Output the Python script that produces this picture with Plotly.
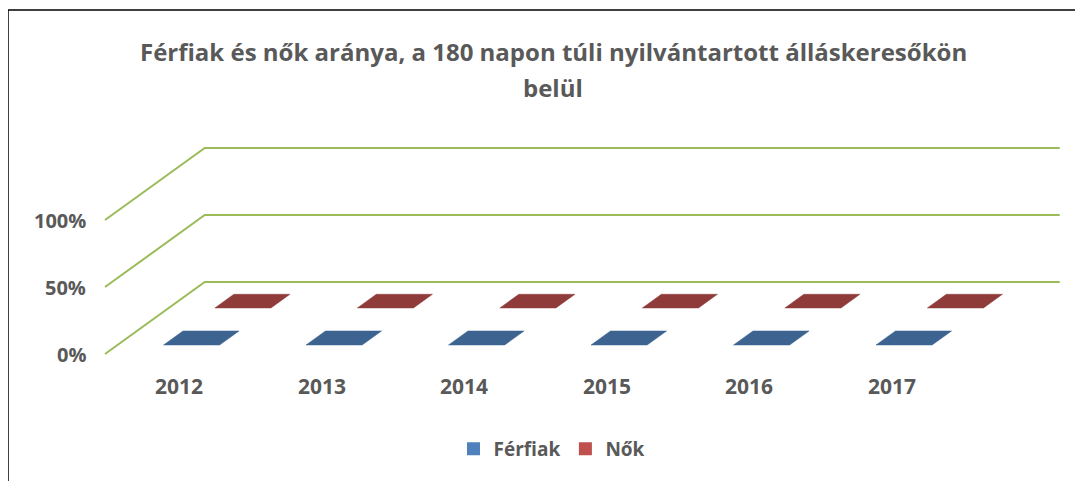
import plotly.graph_objects as go

# ---- data ----
years = ["2012", "2013", "2014", "2015", "2016", "2017"]
ferfiak = [0, 0, 0, 0, 0, 0]   # bars drawn flat on the floor in the reference
nok = [0, 0, 0, 0, 0, 0]
y_ticks = [0, 50, 100]
y_tick_labels = ["0%", "50%", "100%"]
series_names = ["Férfiak", "Nők"]
title_lines = ["Férfiak és nők aránya, a 180 napon túli nyilvántartott álláskeresőkön", "belül"]

# ---- 3D-oblique projection parameters (style) ----
DX = 0.70      # horizontal shift of the back wall (category units)
DY = 53.7      # vertical shift of the back wall (percent units)
FLOOR_L = -0.52
FLOOR_R = len(years) - 1 + 0.48
BAR_HW = 0.197
DEPTHS = [(0.125, 0.32), (0.64, 0.83)]
BAR_COLORS = ["#3D6490", "#8E3B3A"]
LEG_COLORS = ["#4F81BD", "#C0504D"]
GRID = "#9BBB59"
TXT = "#595959"
FONT = "'Open Sans', Lato, sans-serif"


def proj(x, d, v):
    return x + d * DX, v + d * DY


fig = go.Figure()

# gridlines (floor/back wall) at each tick value
for v in y_ticks:
    xs, ys = [], []
    for (x, d) in [(FLOOR_L, 0), (FLOOR_L, 1), (FLOOR_R, 1)]:
        px, py = proj(x, d, v)
        xs.append(px)
        ys.append(py)
    fig.add_trace(go.Scatter(x=xs, y=ys, mode="lines",
                             line=dict(color=GRID, width=2),
                             hoverinfo="skip", showlegend=False))

# bars (top faces of the 3D columns)
for s, vals in enumerate([ferfiak, nok]):
    d0, d1 = DEPTHS[s]
    xs, ys = [], []
    for i, v in enumerate(vals):
        pts = [(i - BAR_HW, d0), (i + BAR_HW, d0), (i + BAR_HW, d1), (i - BAR_HW, d1), (i - BAR_HW, d0)]
        for (x, d) in pts:
            px, py = proj(x, d, v)
            xs.append(px)
            ys.append(py)
        xs.append(None)
        ys.append(None)
    fig.add_trace(go.Scatter(x=xs, y=ys, mode="lines", fill="toself",
                             fillcolor=BAR_COLORS[s],
                             line=dict(color=BAR_COLORS[s], width=0.5),
                             hoverinfo="skip", showlegend=False))

# legend entries
for s, name in enumerate(series_names):
    fig.add_trace(go.Scatter(x=[None], y=[None], mode="markers", name=name,
                             marker=dict(symbol="square", size=13, color=LEG_COLORS[s])))

L, R, T, B = 12, 16, 132, 89
W, H = 1083, 481
PW, PH = W - L - R, H - T - B
pxu = 142.5
x_lo = FLOOR_L - (97 - L) / pxu
x_hi = x_lo + PW / pxu
ppu = 1.34
y_hi = (346 - T) / ppu
y_lo = y_hi - PH / ppu

annotations = []
for v, lab in zip(y_ticks, y_tick_labels):
    annotations.append(dict(x=FLOOR_L - 0.12, y=v, xref="x", yref="y", text=lab,
                            showarrow=False, xanchor="right", yanchor="middle",
                            font=dict(family=FONT, size=20, color=TXT, weight="bold")))
for i, yr in enumerate(years):
    annotations.append(dict(x=i, y=-24, xref="x", yref="y", text=yr,
                            showarrow=False, xanchor="center", yanchor="middle",
                            font=dict(family=FONT, size=21, color=TXT, weight="bold")))
for k, (line, ypx) in enumerate(zip(title_lines, [44, 79])):
    annotations.append(dict(x=(545 - L) / PW, y=1 + (T - ypx) / PH, xref="paper", yref="paper",
                            text=line, showarrow=False, xanchor="center", yanchor="middle",
                            font=dict(family=FONT, size=24, color=TXT, weight="bold")))

fig.update_layout(
    width=W, height=H,
    margin=dict(l=L, r=R, t=T, b=B),
    paper_bgcolor="white", plot_bgcolor="white",
    xaxis=dict(range=[x_lo, x_hi], visible=False, fixedrange=True),
    yaxis=dict(range=[y_lo, y_hi], visible=False, fixedrange=True),
    legend=dict(orientation="h", x=(544 - L) / PW, xanchor="center",
                y=(346 + 46 - 441) / PH, yanchor="middle",
                font=dict(family=FONT, size=19, color=TXT, weight="bold"),
                itemwidth=30, tracegroupgap=0),
    annotations=annotations,
    shapes=[dict(type="rect", xref="paper", yref="paper",
                 x0=(0 - L) / PW, x1=(1069 - L) / PW,
                 y0=-0.6, y1=1 + (T - 2) / PH,
                 line=dict(color="black", width=1.5), fillcolor="rgba(0,0,0,0)", layer="below")],
)

fig.write_html("out.html")
